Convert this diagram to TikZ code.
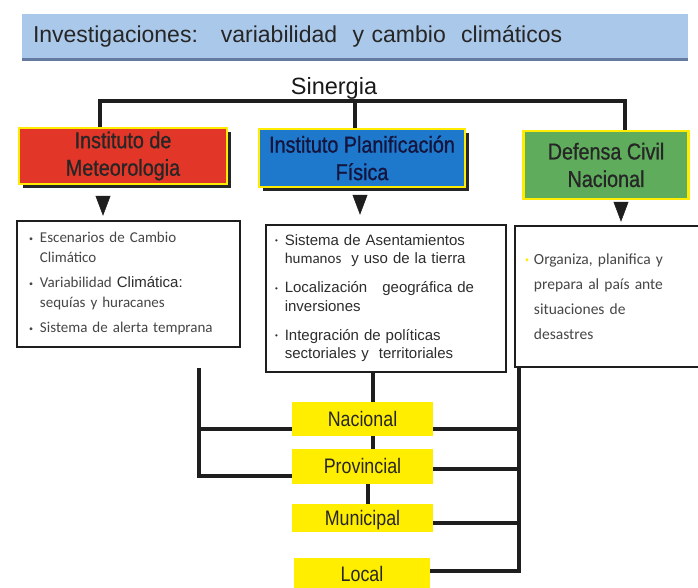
\documentclass[tikz,border=0pt]{standalone}
\usepackage{fontspec}
\setmainfont{Liberation Sans}
\newfontfamily\narrowfont[FakeStretch=0.85]{Liberation Sans}
\newfontfamily\hdrfont[FakeStretch=0.86,FakeBold=0.8]{Liberation Sans}
\newfontfamily\calfont{Carlito}
\usepackage{tikz}
\usetikzlibrary{arrows.meta,calc,shadows}

\definecolor{titleblue}{RGB}{170,200,234}
\definecolor{titleshade}{RGB}{100,122,160}
\definecolor{meteored}{RGB}{226,54,40}
\definecolor{planblue}{RGB}{30,120,204}
\definecolor{civgreen}{RGB}{94,172,92}
\definecolor{hdryellow}{RGB}{255,236,0}
\definecolor{lvlyellow}{RGB}{255,238,0}
\definecolor{linegray}{RGB}{30,30,30}
\definecolor{textgray}{RGB}{70,70,70}
\definecolor{textdark}{RGB}{45,45,45}
\definecolor{navytext}{RGB}{20,20,60}

\newcommand{\bul}{\raisebox{1.5pt}{\fontsize{8}{8}\selectfont\textbullet}}

\begin{document}
\begin{tikzpicture}[x=1pt,y=1pt,
    conn/.style={draw=linegray,line width=3.8pt},
    tri/.style={-{Triangle[length=20pt,width=15pt]},draw=linegray,fill=linegray,line width=0.5pt},
    hdr/.style={draw=hdryellow,line width=2.5pt,align=center,inner sep=0pt,
      font=\hdrfont\fontsize{23}{27.5}\selectfont},
    hshadow/.style={drop shadow={shadow xshift=4pt,shadow yshift=-4pt,fill=black!85,opacity=1}},
    listbox/.style={draw=linegray,line width=2.5pt,fill=white,align=left,inner ysep=0pt},
    level/.style={fill=lvlyellow,minimum width=141pt,inner sep=0pt,text height=14pt,text depth=0pt,
      font=\narrowfont\fontsize{21}{24}\selectfont,text=black!85}]
  \useasboundingbox (0,0) rectangle (698,-587);
  \fill[white] (0,0) rectangle (698,-587);

  % titulo y sinergia
  \node[fill=titleblue,minimum width=666pt,minimum height=44pt,text width=644pt,inner xsep=11pt,align=left,
    drop shadow={shadow xshift=0pt,shadow yshift=-3pt,fill=titleshade,opacity=1},
    font=\fontsize{23}{26}\selectfont,text=black!85] (titulo) at (355,-36)
    {Investigaciones:\ \ \ variabilidad\ \ y cambio\ \ climáticos};
  \node[font=\fontsize{23.5}{28}\selectfont,text=black!90] (sinergia) at (334,-88) {Sinergia};

  % instituciones
  \node[hdr,fill=meteored,hshadow,minimum width=208pt,minimum height=56pt,text=black!85] (meteo) at (123,-156)
    {Instituto de\\Meteorologia};
  \node[hdr,fill=planblue,hshadow,minimum width=206pt,minimum height=58pt,text=navytext] (planif) at (362,-158)
    {Instituto Planificación\\Física};
  \node[hdr,fill=civgreen,minimum width=165pt,minimum height=68pt,text=black!85] (defensa) at (606,-165)
    {Defensa Civil\\Nacional};

  \coordinate (sL) at (100,-101);
  \coordinate (sM) at (355,-101);
  \coordinate (sR) at (625,-101);
  \draw[conn] (meteo.north -| sL) -- (sL) -- (sR) -- (defensa.north -| sR);
  \draw[conn] (sM) -- (planif.north -| sM);

  % listas
  \node[listbox,minimum width=223pt,minimum height=126pt,text width=199pt,inner xsep=12pt,
    font=\calfont\fontsize{15}{19.5}\selectfont,text=textgray] (escen) at (128.5,-284) {%
    \begin{tabular}{@{}l@{\hspace{7pt}}l@{}}
    \bul & Escenarios de Cambio\\
         & Climático\\[6pt]
    \bul & Variabilidad {\rmfamily\color{textdark}Climática:}\\
         & sequías y huracanes\\[6pt]
    \bul & Sistema de alerta temprana
    \end{tabular}};
  \node[listbox,minimum width=240pt,minimum height=147pt,text width=222pt,inner xsep=9pt,
    font=\fontsize{15}{18.5}\selectfont,text=textdark] (asent) at (386,-298.5) {%
    \begin{tabular}{@{}l@{\hspace{7pt}}l@{}}
    \bul & Sistema de Asentamientos\\
         & {\calfont humanos}\ \ y uso de la tierra\\[10.5pt]
    \bul & Localización\ \ \ geográfica de\\
         & inversiones\\[10.5pt]
    \bul & Integración de políticas\\
         & sectoriales y\ \ territoriales
    \end{tabular}};
  \node[listbox,minimum width=190pt,minimum height=141pt,text width=170pt,inner xsep=10pt,
    font=\calfont\fontsize{15.5}{25}\selectfont,text=textgray] (organiza) at (610,-296.5) {%
    \begin{tabular}{@{}l@{\hspace{5pt}}l@{}}
    {\color{hdryellow}\bul} & Organiza, planifica y\\
      & prepara al país ante\\
      & situaciones de\\
      & desastres
    \end{tabular}};

  \coordinate (a1) at (103,0);
  \coordinate (a2) at (360,0);
  \coordinate (a3) at (621,0);
  \draw[tri,shorten <=12pt,shorten >=4pt] (meteo.south -| a1) -- (escen.north -| a1);
  \draw[tri,shorten <=11pt,shorten >=9pt] (planif.south -| a2) -- (asent.north -| a2);
  \draw[tri,shorten <=6pt,shorten >=3pt] (defensa.south -| a3) -- (organiza.north -| a3);

  % niveles
  \node[level,minimum height=34pt] (nac) at (362.5,-419) {Nacional};
  \node[level,minimum height=35pt] (prov) at (362.5,-466.5) {Provincial};
  \node[level,minimum height=28pt] (muni) at (362.5,-518) {Municipal};
  \node[level,minimum width=136pt,minimum height=33pt] (loc) at (362,-574.5) {Local};

  \coordinate (m1) at (373,0);
  \coordinate (m2) at (368,0);
  \draw[conn] (asent.south -| m1) -- (nac.north -| m1);
  \draw[conn] (nac.south -| m1) -- (prov.north -| m1);
  \draw[conn] (prov.south -| m2) -- (muni.north -| m2);

  \coordinate (lrail) at (199,-368);
  \coordinate (nacL) at ($(nac.south west)+(0,7)$);
  \coordinate (provL) at ($(prov.south west)+(0,8)$);
  \draw[conn] (lrail) |- (provL);
  \draw[conn] (lrail |- nacL) -- (nacL);

  \coordinate (r0) at (519,0);
  \coordinate (nacR) at ($(nac.south east)+(0,7)$);
  \coordinate (provR) at ($(prov.south east)+(0,15)$);
  \coordinate (muniR) at ($(muni.south east)+(0,9)$);
  \coordinate (locR) at ($(loc.north east)+(0,-13)$);
  \draw[conn] (organiza.south -| r0) |- (locR);
  \foreach \c in {nacR,provR,muniR} \draw[conn] (r0 |- \c) -- (\c);
\end{tikzpicture}
\end{document}
